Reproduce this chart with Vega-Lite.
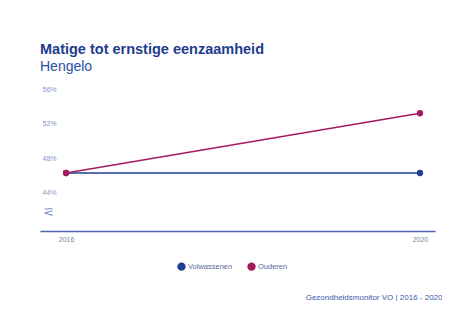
{
  "$schema": "https://vega.github.io/schema/vega-lite/v6.json",
  "width": 395,
  "height": 142,
  "padding": {"left": 40, "top": 41, "right": 0, "bottom": 0},
  "background": "white",
  "title": {
    "text": "Matige tot ernstige eenzaamheid",
    "subtitle": "Hengelo",
    "anchor": "start",
    "font": "Liberation Sans",
    "fontSize": 14.5,
    "fontWeight": "bold",
    "color": "#1d3c8f",
    "subtitleFont": "Liberation Sans",
    "subtitleFontSize": 14,
    "subtitleColor": "#2b4ea6",
    "subtitlePadding": 3,
    "offset": 10
  },
  "data": {
    "values": [
      {"jaar": 2016, "groep": "Volwassenen", "pct": 46.3},
      {"jaar": 2020, "groep": "Volwassenen", "pct": 46.3},
      {"jaar": 2016, "groep": "Ouderen", "pct": 46.3},
      {"jaar": 2020, "groep": "Ouderen", "pct": 53.2}
    ]
  },
  "mark": {"type": "line", "strokeWidth": 1.5, "point": {"filled": true, "size": 40}},
  "encoding": {
    "x": {
      "field": "jaar",
      "type": "quantitative",
      "scale": {"domain": [2015.706, 2020.17], "nice": false, "zero": false},
      "axis": {
        "values": [2016, 2020],
        "format": "d",
        "grid": false,
        "ticks": false,
        "tickSize": 0,
        "domainColor": "#4a64b0",
        "domainWidth": 1.5,
        "labelFont": "Liberation Sans",
        "labelFontSize": 7,
        "labelColor": "#7c86a3",
        "labelPadding": 4,
        "title": "Gezondheidsmonitor VO | 2016 - 2020",
        "titleFont": "Liberation Sans",
        "titleFontSize": 8,
        "titleFontWeight": "normal",
        "titleColor": "#3a5aa8",
        "titleAlign": "right",
        "titleAnchor": "end",
        "titleBaseline": "alphabetic",
        "titleX": 402,
        "titleY": 68
      }
    },
    "y": {
      "field": "pct",
      "type": "quantitative",
      "scale": {"domain": [39.6, 56], "nice": false, "zero": false},
      "axis": {
        "values": [41.8, 44, 48, 52, 56],
        "labelExpr": "datum.value < 43 ? '⪝' : datum.value + '%'",
        "grid": false,
        "domain": false,
        "ticks": false,
        "tickSize": 0,
        "labelAlign": "left",
        "labelPadding": -2,
        "labelFont": "Liberation Sans",
        "labelFontSize": {"condition": {"test": "datum.value < 43", "value": 13}, "value": 7},
        "labelColor": "#8496c6",
        "title": null
      }
    },
    "color": {
      "field": "groep",
      "type": "nominal",
      "sort": ["Volwassenen", "Ouderen"],
      "scale": {"domain": ["Volwassenen", "Ouderen"], "range": ["#1d3f96", "#a51a5c"]},
      "legend": {
        "orient": "none",
        "direction": "horizontal",
        "legendX": 137,
        "legendY": 173,
        "title": null,
        "symbolType": "circle",
        "symbolFillOpacity": 1,
        "symbolSize": 70,
        "symbolStrokeWidth": 0,
        "labelFont": "Liberation Sans",
        "labelFontSize": 7.5,
        "labelColor": "#5a6a9a",
        "labelOffset": 2,
        "columnPadding": 14
      }
    }
  },
  "config": {"view": {"stroke": null}}
}
